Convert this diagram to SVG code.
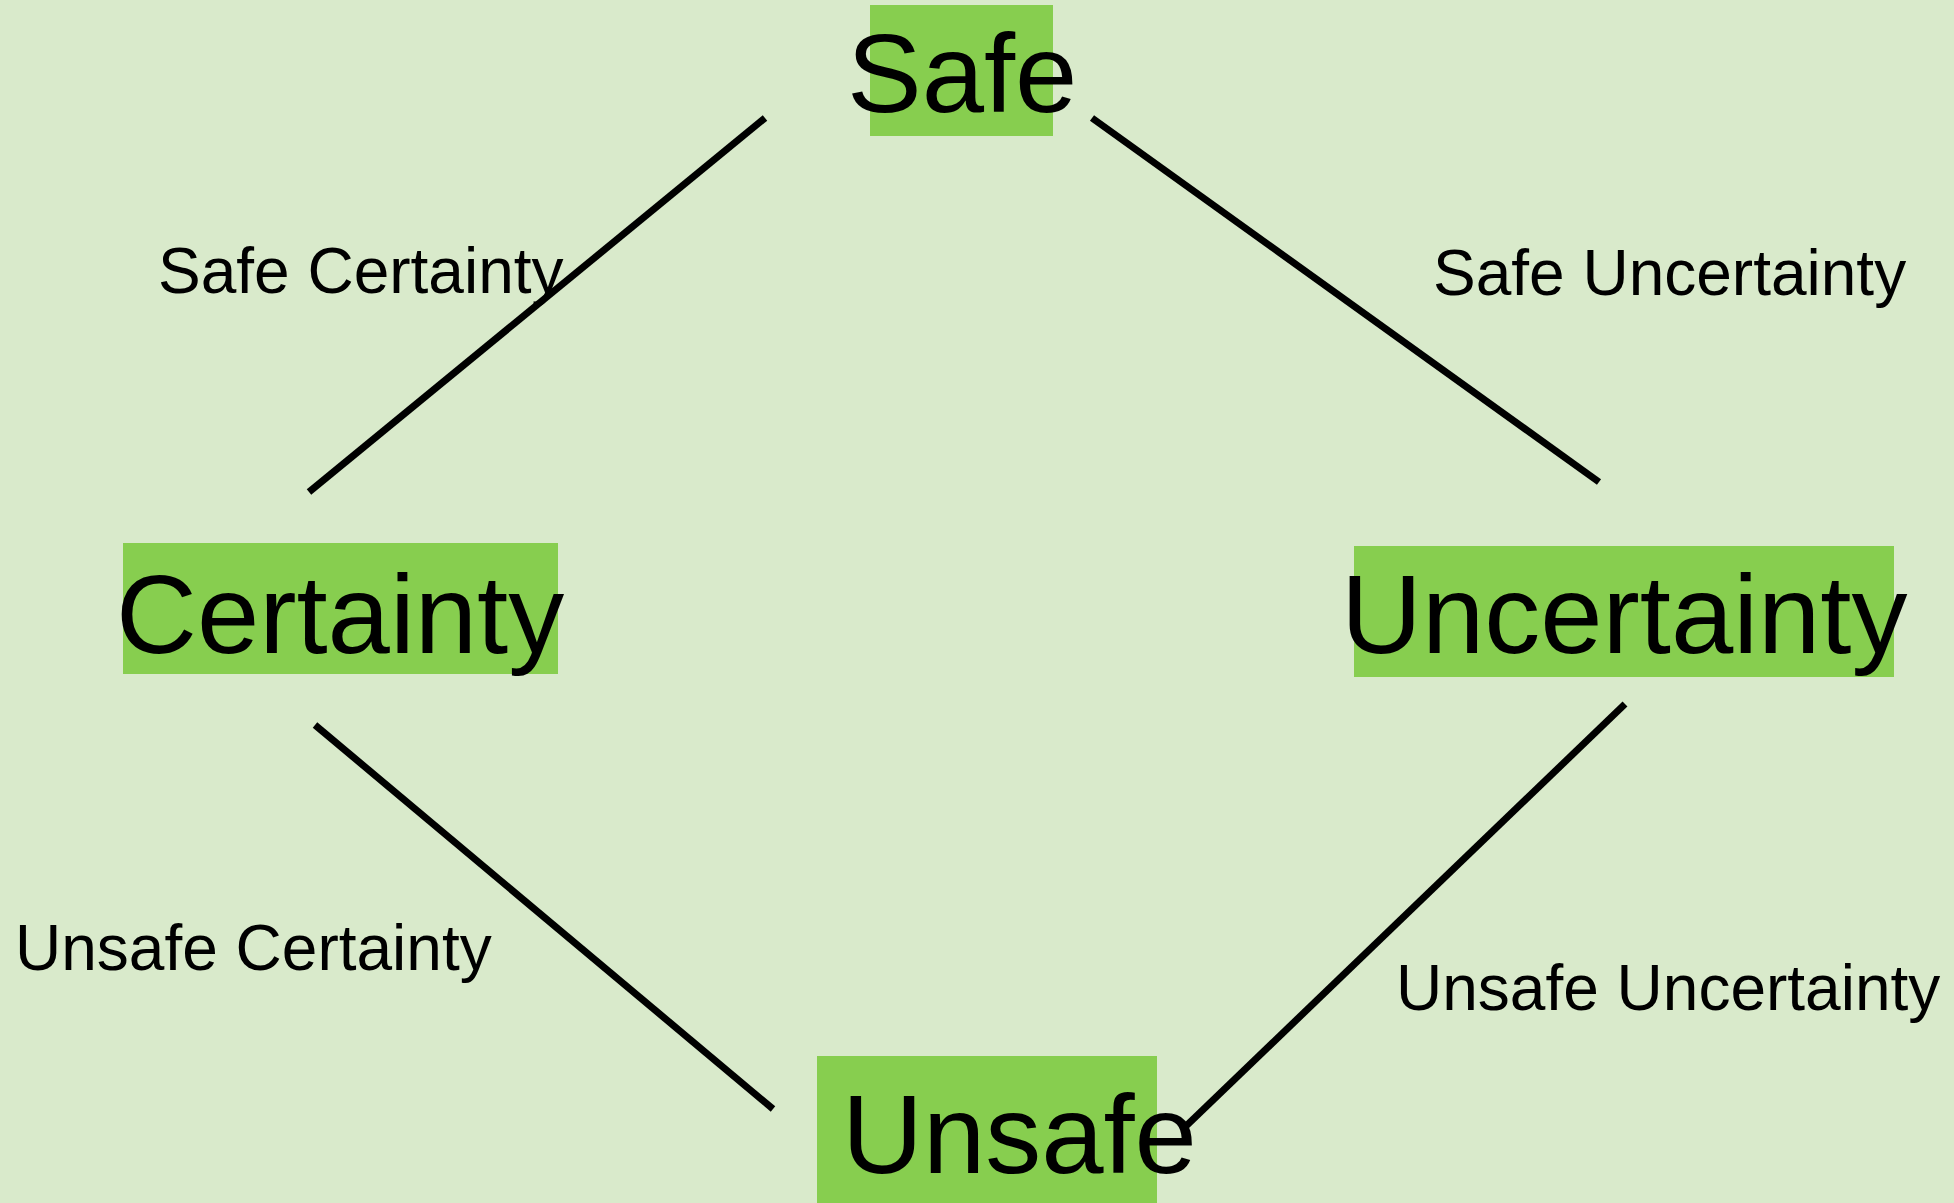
<svg xmlns="http://www.w3.org/2000/svg" width="1954" height="1203" viewBox="0 0 1954 1203">
<style>
.bg{fill:#d9eacb}
.box{fill:#87ce4f}
.big{font-family:"Liberation Sans",Arial,sans-serif;font-size:112px;fill:#000}
.lbl{font-family:"Liberation Sans",Arial,sans-serif;font-size:64px;fill:#000}
.conn line{stroke:#000;stroke-width:7}
</style>
<rect class="bg" x="0" y="0" width="1954" height="1203"/>
<g id="conns" class="conn">
<line x1="765" y1="118" x2="309" y2="492"/>
<line x1="1092" y1="118" x2="1599" y2="482"/>
<line x1="315" y1="725" x2="773" y2="1109"/>
<line x1="1625" y1="704" x2="1184" y2="1128"/>
</g>
<g id="safe">
<rect class="box" x="870" y="5" width="183" height="131"/>
<text class="big" x="847" y="112">Safe</text>
</g>
<g id="certainty">
<rect class="box" x="123" y="543" width="435" height="131"/>
<text class="big" x="116" y="653">Certainty</text>
</g>
<g id="uncertainty">
<rect class="box" x="1354" y="546" width="540" height="131"/>
<text class="big" x="1341" y="653">Uncertainty</text>
</g>
<g id="unsafe">
<rect class="box" x="817" y="1056" width="340" height="147"/>
<text class="big" x="842" y="1173">Unsafe</text>
</g>
<g id="labels">
<text class="lbl" x="158" y="293">Safe Certainty</text>
<text class="lbl" x="1433" y="295">Safe Uncertainty</text>
<text class="lbl" x="15" y="970">Unsafe Certainty</text>
<text class="lbl" x="1396" y="1010">Unsafe Uncertainty</text>
</g>
</svg>
